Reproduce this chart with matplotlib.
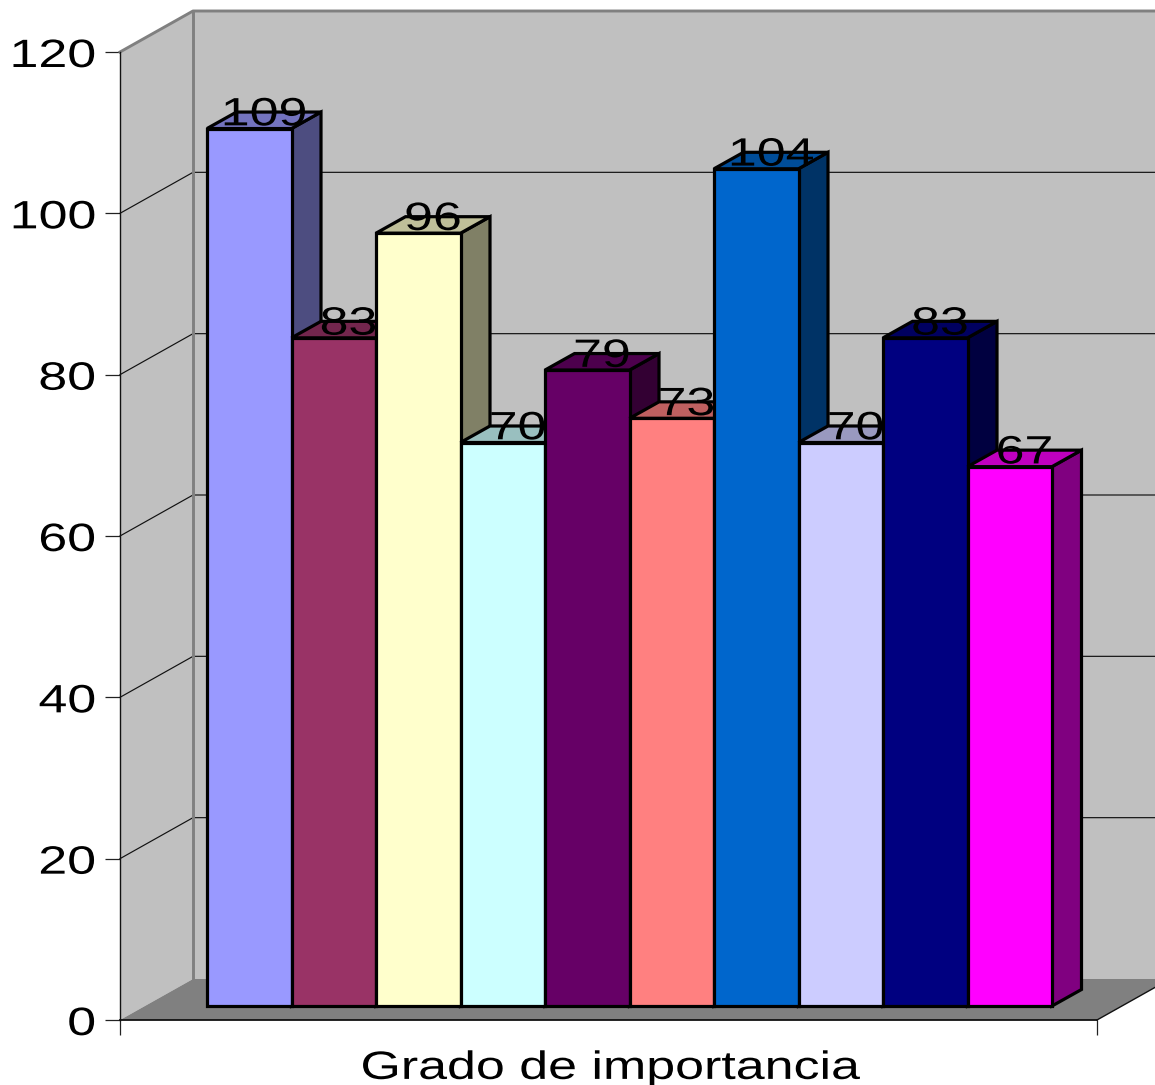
import matplotlib
matplotlib.use("Agg")
import matplotlib.pyplot as plt
from matplotlib.patches import Polygon
from matplotlib.colors import to_rgb
from matplotlib.patheffects import AbstractPathEffect
from matplotlib.transforms import Affine2D

values = [109, 83, 96, 70, 79, 73, 104, 70, 83, 67]
colors = ['#9999FF', '#993366', '#FFFFCC', '#CCFFFF', '#660066',
          '#FF8080', '#0066CC', '#CCCCFF', '#000080', '#FF00FF']
y_ticks = [0, 20, 40, 60, 80, 100, 120]
x_label = 'Grado de importancia'

W, H = 1155, 1085
PX = 72 / 100  # points per pixel at dpi 100
FS = 39.5 * PX
STRETCH = 1.315


class Stretch(AbstractPathEffect):
    """Widens a text horizontally around its anchor, as in the reference."""
    def __init__(self, text, sx):
        super().__init__()
        self.text, self.sx = text, sx

    def draw_path(self, renderer, gc, tpath, affine, rgbFace=None):
        cx = self.text.get_transform().transform(self.text.get_position())[0]
        a = affine + Affine2D().translate(-cx, 0).scale(self.sx, 1).translate(cx, 0)
        renderer.draw_path(gc, tpath, a, rgbFace)


def stretch(t):
    t.set_path_effects([Stretch(t, STRETCH)])
    return t


plt.rcParams['font.family'] = ['Liberation Sans', 'DejaVu Sans']
fig = plt.figure(figsize=(W / 100, H / 100), dpi=100, facecolor='white')

# ---------- frame: walls, floor, gridlines, axis ----------
ax = fig.add_axes([120 / W, (H - 1020) / H, 977 / W, 968 / H])
ax.set_xlim(0, 1)
ax.set_ylim(0, 120)
ax.patch.set_visible(False)
wx = 73 / 977
wy = 41 / (968 / 120)
WALL, FLOOR = '#C0C0C0', '#808080'
ax.add_patch(Polygon([(0, 0), (wx, wy), (wx, 120 + wy), (0, 120)], fc=WALL, ec='none', clip_on=False, zorder=1))
ax.add_patch(Polygon([(wx, wy), (1 + wx, wy), (1 + wx, 120 + wy), (wx, 120 + wy)], fc=WALL, ec='none', clip_on=False, zorder=1))
ax.add_patch(Polygon([(0, 0), (1, 0), (1 + wx, wy), (wx, wy)], fc=FLOOR, ec='none', clip_on=False, zorder=1))
for v in y_ticks[1:-1]:
    ax.plot([0, wx, 1 + wx], [v, v + wy, v + wy], color='#111111', lw=0.85, clip_on=False, zorder=2)
ax.plot([1, 1 + wx], [0, wy], color='#111111', lw=1.0, clip_on=False, zorder=2)
ax.plot([0, wx, 1 + wx], [120, 120 + wy, 120 + wy], color=FLOOR, lw=2.1, clip_on=False, zorder=3)
ax.plot([wx, wx], [wy, 120 + wy], color=FLOOR, lw=2.1, clip_on=False, zorder=3)

for s in ('top', 'right'):
    ax.spines[s].set_visible(False)
ax.spines['left'].set_linewidth(1.0)
ax.spines['bottom'].set_linewidth(1.3)
for s in ('left', 'bottom'):
    ax.spines[s].set_color('#111111')
    ax.spines[s].set_zorder(4)
ax.set_yticks(y_ticks)
ax.set_xticks([0, 1])
ax.set_xticklabels(['', ''])
ax.tick_params(axis='both', length=15 * PX, width=0.9, color='#222222')
ax.tick_params(axis='y', pad=9 * PX, labelsize=FS)
for lab in ax.get_yticklabels():
    stretch(lab)
ax.set_xlabel(x_label, fontsize=FS, labelpad=6.5)
ax.xaxis.label.set_x(0.5015)
stretch(ax.xaxis.label)

# ---------- bars ----------
bx = fig.add_axes([207 / W, (H - 1006) / H, 845 / W, 120 * 8.05 / H], zorder=5)
bx.set_xlim(0, len(values))
bx.set_ylim(0, 120)
bx.axis('off')
dx = 29.5 / 84.5
dy = 16.5 / 8.05
LW = 2.3


def shade(c, f):
    return tuple(ch * f for ch in to_rgb(c))


bars = bx.bar(range(len(values)), values, width=1, align='edge', color=colors,
              edgecolor='black', linewidth=LW, clip_on=False)
for i, (b, v, c) in enumerate(zip(bars, values, colors)):
    z = 10 + i * 3
    b.set_zorder(z + 2)
    b.set_joinstyle('miter')
    bx.add_patch(Polygon([(i + 1, 0), (i + 1 + dx, dy), (i + 1 + dx, v + dy), (i + 1, v)],
                         fc=shade(c, 0.5), ec='black', lw=LW, clip_on=False, zorder=z, joinstyle='miter'))
    bx.add_patch(Polygon([(i, v), (i + dx, v + dy), (i + 1 + dx, v + dy), (i + 1, v)],
                         fc=shade(c, 0.75), ec='black', lw=LW, clip_on=False, zorder=z + 1, joinstyle='miter'))
    stretch(bx.text(i + 0.5 + dx / 2, v + 0.4, str(v), ha='center', va='baseline',
                    fontsize=FS, color='black', clip_on=False, zorder=100))

fig.savefig('out.png', dpi=100, facecolor='white')
